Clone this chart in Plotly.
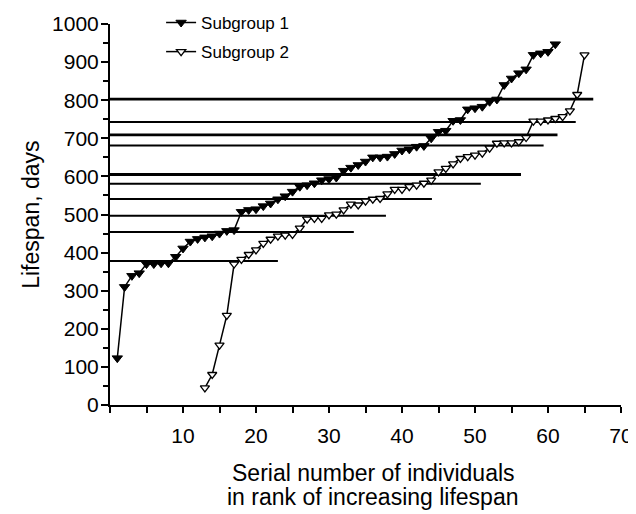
import plotly.graph_objects as go

# ---- data ----
sub1_x = list(range(1, 62))
sub1_y = [123, 310, 339, 346, 370, 370, 372, 372, 389, 411,
          429, 436, 440, 443, 450, 457, 459, 507, 512, 514,
          522, 529, 540, 548, 560, 573, 577, 582, 590, 593,
          597, 615, 623, 630, 639, 650, 650, 652, 659, 668,
          671, 678, 680, 700, 717, 720, 746, 748, 776, 779,
          783, 796, 802, 840, 857, 871, 881, 919, 923, 927,
          947]

sub2_x = list(range(13, 66))
sub2_y = [45, 80, 157, 235, 370, 382, 395, 407, 424, 435,
          443, 446, 448, 464, 488, 490, 490, 499, 501, 512,
          527, 525, 535, 540, 542, 554, 566, 566, 573, 577,
          582, 590, 612, 621, 633, 647, 652, 656, 661, 674,
          687, 688, 688, 691, 702, 745, 745, 748, 752, 757,
          772, 815, 919]

# horizontal reference levels (y) and the x where each line ends
level_y = [803, 743, 709, 681, 605, 581, 541, 497, 454, 378]
level_end = [66.2, 63.8, 61.3, 59.4, 56.3, 50.8, 44.1, 37.8, 33.4, 23.0]
level_thick = [True, False, True, False, True, False, False, False, False, False]

x_ticks = [10, 20, 30, 40, 50, 60, 70]
y_ticks = [0, 100, 200, 300, 400, 500, 600, 700, 800, 900, 1000]

x_title_lines = ["Serial number of individuals", "in rank of increasing lifespan"]
y_title = "Lifespan, days"

FONT = "Liberation Sans, Arial, Helvetica, sans-serif"

fig = go.Figure()

for yv, xe, thick in zip(level_y, level_end, level_thick):
    fig.add_trace(go.Scatter(
        x=[0, xe], y=[yv, yv], mode="lines",
        line=dict(color="black", width=2.8 if thick else 2.0),
        showlegend=False, hoverinfo="skip"))

fig.add_trace(go.Scatter(
    x=sub1_x, y=sub1_y, mode="lines+markers", name="Subgroup 1",
    line=dict(color="black", width=1.5),
    marker=dict(symbol="triangle-down", size=9, color="black",
                line=dict(color="black", width=1)),
    legendgroup="a", cliponaxis=False))

fig.add_trace(go.Scatter(
    x=sub2_x, y=sub2_y, mode="lines+markers", name="Subgroup 2",
    line=dict(color="black", width=1.5),
    marker=dict(symbol="triangle-down", size=8, color="white",
                line=dict(color="black", width=1.3)),
    legendgroup="b", cliponaxis=False))

# page body has an 8px margin: margins are set to compensate
fig.update_layout(
    width=636, height=514,
    margin=dict(l=102, r=23, t=16, b=117, autoexpand=False),
    paper_bgcolor="white", plot_bgcolor="white",
    font=dict(family=FONT, color="black", size=21),
    showlegend=True,
    legend=dict(x=0.10, y=1.05, xanchor="left", yanchor="top",
                bgcolor="rgba(0,0,0,0)", font=dict(size=17),
                tracegroupgap=4, traceorder="grouped"),
    xaxis=dict(range=[0, 70], tickvals=x_ticks, ticktext=[str(v) for v in x_ticks],
               automargin=False, ticklabeloverflow="allow",
               showgrid=False, zeroline=False, showline=True, linecolor="black",
               linewidth=2, ticks="outside", ticklen=6, tickwidth=1.5, tickcolor="black",
               ticklabelstandoff=5,
               minor=dict(dtick=5, tick0=0, ticks="outside", ticklen=6, tickwidth=1.5,
                          tickcolor="black", showgrid=False)),
    yaxis=dict(range=[0, 1000], tickvals=y_ticks, ticktext=[str(v) for v in y_ticks],
               automargin=False,
               showgrid=False, zeroline=False, showline=True, linecolor="black",
               linewidth=2, ticks="outside", ticklen=7, tickwidth=1.5, tickcolor="black",
               ticklabelstandoff=-2,
               minor=dict(dtick=50, tick0=0, ticks="outside", ticklen=5, tickwidth=1.5,
                          tickcolor="black", showgrid=False)),
    annotations=[
        dict(text=x_title_lines[0], xref="paper", yref="paper", x=0.515, y=-0.1785,
             xanchor="center", yanchor="middle", showarrow=False, font=dict(size=23)),
        dict(text=x_title_lines[1], xref="paper", yref="paper", x=0.515, y=-0.2415,
             xanchor="center", yanchor="middle", showarrow=False, font=dict(size=23)),
        dict(text=y_title, xref="paper", yref="paper", x=-0.156, y=0.5, textangle=-90,
             xanchor="center", yanchor="middle", showarrow=False, font=dict(size=23)),
    ],
)

fig.write_html("out.html")
